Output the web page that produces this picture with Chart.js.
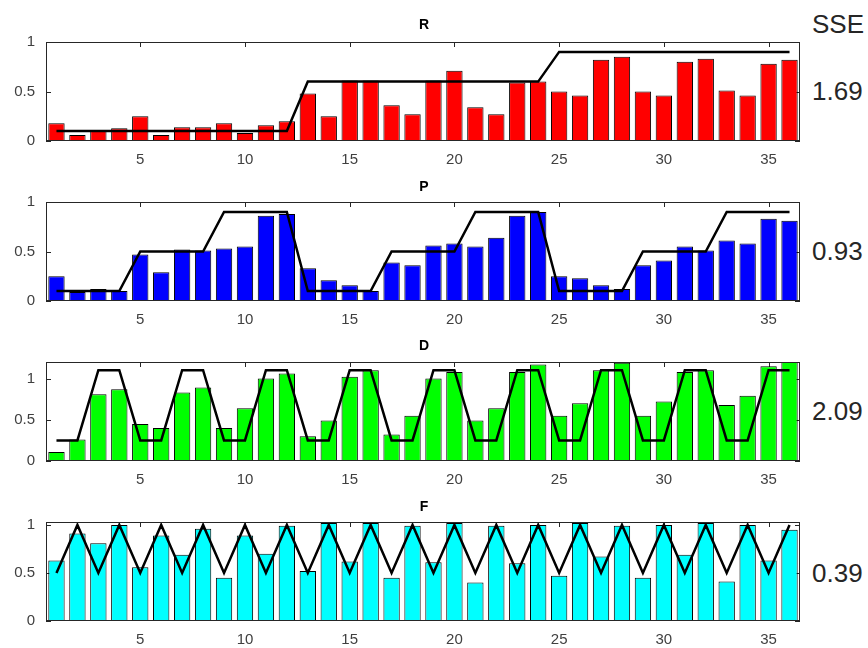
<!DOCTYPE html>
<html>
<head>
<meta charset="utf-8">
<script src="https://cdn.jsdelivr.net/npm/chart.js@4"></script>
<style>
  body { margin: 0; background: #fff; width: 868px; height: 648px; position: relative; overflow: hidden; }
  canvas { position: absolute; left: 0; }
  .ttl { position: absolute; left: 424px; transform: translate(-50%, -50%); font: bold 14px "Liberation Sans", Arial, sans-serif; color: #000; }
  .sse { position: absolute; left: 812px; transform: translateY(-50%); font: 26px "Liberation Sans", Arial, sans-serif; color: #262626; }
</style>
</head>
<body>
<canvas id="c0" width="810" height="149" style="top:22px"></canvas>
<canvas id="c1" width="810" height="149" style="top:182px"></canvas>
<canvas id="c2" width="810" height="149" style="top:342px"></canvas>
<canvas id="c3" width="810" height="149" style="top:502px"></canvas>
<div class="ttl" id="t0" style="top:24px"></div>
<div class="ttl" id="t1" style="top:186px"></div>
<div class="ttl" id="t2" style="top:345px"></div>
<div class="ttl" id="t3" style="top:506px"></div>
<div class="sse" style="top:24px">SSE</div>
<div class="sse" id="s0" style="top:91px"></div>
<div class="sse" id="s1" style="top:251px"></div>
<div class="sse" id="s2" style="top:411px"></div>
<div class="sse" id="s3" style="top:573px"></div>
<script>
var categories = ["1","2","3","4","5","6","7","8","9","10","11","12","13","14","15","16","17","18",
  "19","20","21","22","23","24","25","26","27","28","29","30","31","32","33","34","35","36"];
var xTickLabels = ["5","10","15","20","25","30","35"];
var yTickValues = [0, 0.5, 1];

var panelTitles = ["R", "P", "D", "F"];
var sseValues = ["1.69", "0.93", "2.09", "0.39"];

// observed bars
var rValues = [0.18,0.06,0.10,0.13,0.25,0.06,0.14,0.14,0.18,0.08,0.16,0.20,
  0.48,0.25,0.61,0.61,0.36,0.27,0.61,0.71,0.34,0.27,0.59,0.60,
  0.50,0.46,0.82,0.85,0.50,0.46,0.80,0.83,0.51,0.46,0.78,0.82];
var pValues = [0.25,0.09,0.12,0.10,0.47,0.29,0.52,0.51,0.53,0.55,0.86,0.88,
  0.33,0.21,0.16,0.10,0.39,0.36,0.56,0.58,0.55,0.64,0.86,0.90,
  0.25,0.23,0.16,0.12,0.36,0.41,0.55,0.51,0.61,0.58,0.83,0.81];
var dValues = [0.11,0.26,0.81,0.87,0.45,0.40,0.83,0.89,0.40,0.64,1.00,1.06,
  0.30,0.49,1.02,1.10,0.32,0.55,1.00,1.08,0.49,0.64,1.08,1.17,
  0.55,0.70,1.10,1.19,0.55,0.72,1.08,1.10,0.68,0.79,1.15,1.22];
var fValues = [0.63,0.91,0.81,1.00,0.56,0.89,0.69,0.96,0.45,0.89,0.70,0.99,
  0.52,1.02,0.62,1.02,0.45,0.99,0.61,1.02,0.40,0.99,0.60,1.00,
  0.47,1.02,0.67,0.99,0.45,1.00,0.69,1.02,0.41,1.00,0.63,0.95];

// fitted model lines
var rModel = [0.1,0.1,0.1,0.1,0.1,0.1,0.1,0.1,0.1,0.1,0.1,0.1,
  0.6,0.6,0.6,0.6,0.6,0.6,0.6,0.6,0.6,0.6,0.6,0.6,
  0.9,0.9,0.9,0.9,0.9,0.9,0.9,0.9,0.9,0.9,0.9,0.9];
var pModel = [0.1,0.1,0.1,0.1,0.5,0.5,0.5,0.5,0.9,0.9,0.9,0.9,
  0.1,0.1,0.1,0.1,0.5,0.5,0.5,0.5,0.9,0.9,0.9,0.9,
  0.1,0.1,0.1,0.1,0.5,0.5,0.5,0.5,0.9,0.9,0.9,0.9];
var dModel = [0.25,0.25,1.1,1.1,0.25,0.25,1.1,1.1,0.25,0.25,1.1,1.1,
  0.25,0.25,1.1,1.1,0.25,0.25,1.1,1.1,0.25,0.25,1.1,1.1,
  0.25,0.25,1.1,1.1,0.25,0.25,1.1,1.1,0.25,0.25,1.1,1.1];
var fModel = [0.5,1,0.5,1,0.5,1,0.5,1,0.5,1,0.5,1,
  0.5,1,0.5,1,0.5,1,0.5,1,0.5,1,0.5,1,
  0.5,1,0.5,1,0.5,1,0.5,1,0.5,1,0.5,1];

var panels = [
  { values: rValues, model: rModel, color: "#ff0000", yMax: 1 },
  { values: pValues, model: pModel, color: "#0000ff", yMax: 1 },
  { values: dValues, model: dModel, color: "#00ff00", yMax: 1.2 },
  { values: fValues, model: fModel, color: "#00ffff", yMax: 1.03 },
];

var tickFont = { family: '"Liberation Sans", Arial, sans-serif', size: 15 };
var axisColor = "#262626";

// matlab-style inward ticks and box
var matlabAxes = {
  id: "matlabAxes",
  beforeDatasetsDraw: function (chart) {
    var ctx = chart.ctx, a = chart.chartArea;
    var xs = chart.scales.x, ys = chart.scales.y;
    ctx.save();
    ctx.strokeStyle = axisColor;
    ctx.lineWidth = 1;
    ctx.beginPath();
    xTickLabels.forEach(function (lab) {
      var px = Math.round(xs.getPixelForValue(categories.indexOf(lab))) + 0.5;
      ctx.moveTo(px, a.top); ctx.lineTo(px, a.top + 5);
      ctx.moveTo(px, a.bottom); ctx.lineTo(px, a.bottom - 5);
    });
    yTickValues.forEach(function (v) {
      var py = Math.round(ys.getPixelForValue(v)) + 0.5;
      ctx.moveTo(a.left, py); ctx.lineTo(a.left + 5, py);
      ctx.moveTo(a.right, py); ctx.lineTo(a.right - 5, py);
    });
    ctx.stroke();
    ctx.restore();
  },
  afterDatasetsDraw: function (chart) {
    var ctx = chart.ctx, a = chart.chartArea;
    ctx.save();
    ctx.strokeStyle = axisColor;
    ctx.lineWidth = 1;
    ctx.strokeRect(Math.round(a.left) + 0.5, Math.round(a.top) + 0.5,
      Math.round(a.right - a.left) - 1, Math.round(a.bottom - a.top) - 1);
    ctx.restore();
  }
};

panels.forEach(function (p, i) {
  document.getElementById("t" + i).textContent = panelTitles[i];
  document.getElementById("s" + i).textContent = sseValues[i];
  new Chart(document.getElementById("c" + i).getContext("2d"), {
    type: "bar",
    data: {
      labels: categories,
      datasets: [
        {
          type: "line",
          data: p.model,
          borderColor: "#000",
          borderWidth: 2.5,
          pointRadius: 0,
          tension: 0,
          order: 0,
        },
        {
          type: "bar",
          data: p.values,
          backgroundColor: p.color,
          borderColor: "#000",
          borderWidth: 1,
          barPercentage: 0.78,
          categoryPercentage: 1,
          order: 1,
        },
      ],
    },
    options: {
      responsive: false,
      animation: false,
      layout: { padding: { top: 0, right: 10, bottom: 0, left: 0 } },
      plugins: { legend: { display: false }, tooltip: { enabled: false } },
      scales: {
        x: {
          offset: true,
          grid: { display: false, drawTicks: false },
          border: { display: false },
          ticks: {
            autoSkip: false,
            maxRotation: 0,
            padding: 10,
            color: "#404040",
            font: tickFont,
            callback: function (v) {
              var lab = categories[v];
              return xTickLabels.indexOf(lab) >= 0 ? lab : "";
            },
          },
          afterFit: function (s) { s.height = 30; },
        },
        y: {
          min: 0,
          max: p.yMax,
          grid: { display: false, drawTicks: false },
          border: { display: false },
          ticks: {
            padding: 11,
            color: "#404040",
            font: tickFont,
            callback: function (v) { return String(v); },
          },
          afterBuildTicks: function (s) {
            s.ticks = yTickValues.map(function (v) { return { value: v }; });
          },
          afterFit: function (s) { s.width = 46; },
        },
      },
    },
    plugins: [matlabAxes],
  });
});
</script>
</body>
</html>
